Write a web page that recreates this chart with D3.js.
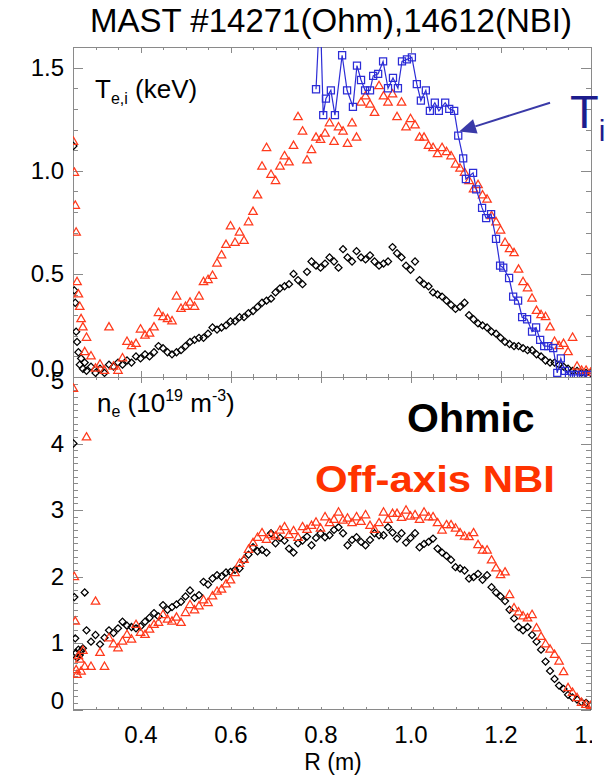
<!DOCTYPE html>
<html>
<head>
<meta charset="utf-8">
<title>MAST Te, Ti and ne profiles</title>
<script src="https://d3js.org/d3.v7.min.js"></script>
<style>
  body { margin: 0; background: #fff; }
  svg { display: block; font-family: "Liberation Sans", Arial, Helvetica, sans-serif; }
</style>
</head>
<body>
<div id="chart"></div>
<script>
// Thomson scattering radii (m), same channels for both shots
var rTS = [
  0.251, 0.253, 0.255, 0.257, 0.259, 0.262, 0.265, 0.268, 0.272, 0.276, 0.280,
  0.29, 0.30, 0.31, 0.32, 0.33, 0.34, 0.35, 0.36, 0.37, 0.38,
  0.39, 0.40, 0.41, 0.42, 0.43, 0.44, 0.45, 0.46, 0.47, 0.48,
  0.49, 0.50, 0.51, 0.52, 0.53, 0.54, 0.55, 0.56, 0.57, 0.58,
  0.59, 0.60, 0.61, 0.62, 0.63, 0.64, 0.65, 0.66, 0.67, 0.68,
  0.69, 0.70, 0.71, 0.72, 0.73, 0.74, 0.75, 0.76, 0.77, 0.78,
  0.79, 0.80, 0.81, 0.82, 0.83, 0.84, 0.85, 0.86, 0.87, 0.88,
  0.89, 0.90, 0.91, 0.92, 0.93, 0.94, 0.95, 0.96, 0.97, 0.98,
  0.99, 1.00, 1.01, 1.02, 1.03, 1.04, 1.05, 1.06, 1.07, 1.08,
  1.09, 1.10, 1.11, 1.12, 1.13, 1.14, 1.15, 1.16, 1.17, 1.18,
  1.19, 1.20, 1.21, 1.22, 1.23, 1.24, 1.25, 1.26, 1.27, 1.28,
  1.29, 1.30, 1.31, 1.32, 1.33, 1.34, 1.35, 1.36, 1.37, 1.38,
  1.39, 1.40
];

// Te (keV), Ohmic shot 14271
var teOhmic = [
  1.12, 0.42, 0.36, 0.22, 0.17, 0.12, 0.06, 0.09, 0.04, 0.07, 0.03,
  0.05, 0.02, 0.04, 0.02, 0.06, 0.05, 0.07, 0.06, 0.08, 0.07,
  0.10, 0.09, 0.11, 0.10, 0.12, 0.15, 0.14, 0.12, 0.11, 0.12,
  0.13, 0.15, 0.17, 0.18, 0.19, 0.19, 0.21, 0.24, 0.23, 0.24,
  0.25, 0.27, 0.27, 0.29, 0.29, 0.31, 0.32, 0.34, 0.36, 0.37,
  0.38, 0.41, 0.43, 0.44, 0.45, 0.50, 0.47, 0.45, 0.51, 0.56,
  0.54, 0.53, 0.55, 0.58, 0.56, 0.53, 0.62, 0.58, 0.56, 0.61,
  0.58, 0.57, 0.59, 0.56, 0.54, 0.55, 0.56, 0.63, 0.60, 0.58,
  0.54, 0.52, 0.56, 0.47, 0.45, 0.44, 0.41, 0.40, 0.39, 0.37,
  0.35, 0.33, 0.34, 0.36, 0.30, 0.28, 0.26, 0.25, 0.24, 0.22,
  0.21, 0.19, 0.17, 0.16, 0.15, 0.15, 0.14, 0.13, 0.13, 0.11,
  0.10, 0.08, 0.07, 0.07, 0.06, 0.05, 0.04, 0.03, 0.03, 0.02,
  0.02, 0.02
];

// Te (keV), off-axis NBI shot 14612
var teNBI = [
  1.14, 0.99, 0.83, 0.70, 0.46, 0.40, 0.34, 0.28, 0.24, 0.12, 0.19,
  0.10, 0.04, 0.06, 0.03, 0.24, 0.05, 0.03, 0.09, 0.17, 0.15,
  0.16, 0.23, 0.20, 0.21, 0.24, 0.31, 0.29, 0.28, 0.27, 0.39,
  0.33, 0.34, 0.36, 0.34, 0.39, 0.46, 0.47, 0.49, 0.55, 0.59,
  0.64, 0.73, 0.65, 0.70, 0.66, 0.75, 0.80, 0.88, 1.02, 1.11,
  0.98, 0.95, 1.02, 1.07, 1.04, 1.12, 1.26, 1.19, 1.05, 1.10,
  1.16, 1.15, 1.18, 1.23, 1.14, 1.21, 1.19, 1.13, 1.23, 1.16,
  1.33, 1.36, 1.32, 1.28, 1.41, 1.36, 1.33, 1.37, 1.26, 1.33,
  1.21, 1.25, 1.22, 1.16, 1.16, 1.12, 1.11, 1.08, 1.11, 1.09,
  1.07, 1.03, 1.01, 0.99, 0.95, 0.91, 0.93, 0.88, 0.86, 0.78,
  0.75, 0.71, 0.65, 0.62, 0.60, 0.52, 0.46, 0.43, 0.38, 0.32,
  0.30, 0.29, 0.24, 0.17, 0.15, 0.16, 0.12, 0.19, 0.05, 0.03,
  0.03, 0.02
];

// ne (1e19 m^-3), Ohmic
var neOhmic = [
  4.00, 1.69, 1.07, 0.85, 0.78, 0.90, 0.82, 0.88, 0.92, 1.76, 1.19,
  1.02, 1.12, 0.98, 1.08, 1.19, 1.15, 1.22, 1.32, 1.26, 1.24,
  1.22, 1.25, 1.32, 1.38, 1.45, 1.40, 1.57, 1.50, 1.54, 1.58,
  1.62, 1.70, 1.79, 1.68, 1.72, 1.92, 1.88, 1.97, 2.02, 2.00,
  2.06, 2.07, 2.10, 2.12, 2.25, 2.33, 2.44, 2.38, 2.40, 2.36,
  2.65, 2.50, 2.58, 2.54, 2.42, 2.36, 2.50, 2.54, 2.60, 2.47,
  2.58, 2.65, 2.59, 2.62, 2.70, 2.74, 2.65, 2.47, 2.55, 2.59,
  2.52, 2.47, 2.55, 2.65, 2.62, 2.62, 2.74, 2.66, 2.57, 2.65,
  2.51, 2.58, 2.65, 2.44, 2.49, 2.52, 2.57, 2.42, 2.36, 2.31,
  2.25, 2.14, 2.12, 2.09, 1.97, 1.99, 2.04, 1.95, 2.02, 1.84,
  1.76, 1.70, 1.63, 1.50, 1.37, 1.24, 1.19, 1.24, 1.12, 1.02,
  0.90, 0.72, 0.58, 0.46, 0.36, 0.31, 0.22, 0.18, 0.15, 0.11,
  0.10, 0.06
];

// ne (1e19 m^-3), off-axis NBI
var neNBI = [
  4.82, 1.99, 1.32, 0.59, 0.52, 0.80, 0.75, 0.57, 0.88, 0.64, 4.09,
  0.64, 1.62, 0.85, 0.64, 1.07, 0.98, 0.92, 1.02, 1.12, 1.05,
  1.27, 1.15, 1.12, 1.20, 1.27, 1.30, 1.42, 1.35, 1.32, 1.38,
  1.30, 1.45, 1.57, 1.49, 1.55, 1.64, 1.60, 1.70, 1.77, 1.80,
  1.88, 1.94, 2.05, 2.19, 2.25, 2.40, 2.50, 2.58, 2.65, 2.55,
  2.62, 2.60, 2.69, 2.74, 2.62, 2.68, 2.58, 2.74, 2.70, 2.76,
  2.81, 2.72, 2.89, 2.80, 2.85, 2.96, 2.84, 2.87, 2.80, 2.89,
  2.82, 2.92, 2.76, 2.70, 2.80, 2.96, 2.85, 2.94, 2.94, 2.88,
  2.99, 2.90, 2.92, 2.85, 2.96, 2.89, 2.89, 2.80, 2.69, 2.77,
  2.77, 2.72, 2.65, 2.60, 2.59, 2.65, 2.47, 2.39, 2.39, 2.24,
  2.12, 2.02, 2.06, 1.72, 1.52, 1.46, 1.40, 1.37, 1.42, 1.22,
  1.09, 0.98, 0.90, 0.82, 0.72, 0.56, 0.32, 0.25, 0.17, 0.10,
  0.07, 0.05
];

// Ti (keV) from CXRS, NBI shot
var rTi = [
  0.790, 0.799, 0.806, 0.812, 0.823, 0.832, 0.848, 0.859, 0.872, 0.881,
  0.890, 0.899, 0.910, 0.917, 0.928, 0.939, 0.950, 0.961, 0.972, 0.981,
  0.992, 1.003, 1.014, 1.023, 1.034, 1.043, 1.054, 1.063, 1.077, 1.086,
  1.097, 1.106, 1.117, 1.123, 1.139, 1.146, 1.159, 1.168, 1.179, 1.190,
  1.199, 1.206, 1.219, 1.228, 1.239, 1.248, 1.259, 1.270, 1.279, 1.288,
  1.297, 1.306, 1.317, 1.326, 1.334, 1.343, 1.352, 1.363, 1.372, 1.383,
  1.394
];
var ti = [
  1.395, 1.80, 1.27, 1.35, 1.39, 1.27, 1.56, 1.39, 1.31, 1.51,
  1.44, 1.39, 1.39, 1.46, 1.47, 1.53, 1.40, 1.45, 1.40, 1.53,
  1.54, 1.55, 1.42, 1.34, 1.39, 1.29, 1.33, 1.29, 1.33, 1.30,
  1.29, 1.17, 1.06, 0.96, 0.99, 0.91, 0.82, 0.77, 0.79, 0.67,
  0.54, 0.53, 0.48, 0.39, 0.37, 0.29, 0.28, 0.22, 0.24, 0.18,
  0.15, 0.15, 0.14, 0.02, 0.09, 0.03, 0.01, 0.01, 0.01, 0.01,
  0.01
];

var xTicks = [0.4, 0.6, 0.8, 1.0, 1.2, 1.4];
var teTicks = [0.0, 0.5, 1.0, 1.5];
var neTicks = [0, 1, 2, 3, 4, 5];

// arrow pointing at the Ti profile (data units: tail, tip)
var arrowTail = [1.31, 1.33];
var arrowTip = [1.108, 1.19];

var W = 613, H = 778;
var left = 73, right = 591, top1 = 47, mid = 377, bot2 = 709.5;
var gray = "#8a8a8a";
var red = "#ff3a1c";
var blue = "#2c2cd6";

var x = d3.scaleLinear().domain([0.25, 1.401]).range([left, right]);
var yTe = d3.scaleLinear().domain([0, 1.6]).range([mid, top1]);
var yNe = d3.scaleLinear().domain([0, 5]).range([bot2, mid]);

var xMinor = d3.range(0.25, 1.401, 0.05).map(function(d) { return +d.toFixed(2); });
var teMinor = d3.range(0, 1.61, 0.1).map(function(d) { return +d.toFixed(1); });
var neMinor = d3.range(0, 5.01, 0.1).map(function(d) { return +d.toFixed(1); });

var svg = d3.select("#chart").append("svg")
  .attr("width", W)
  .attr("height", H);

svg.append("rect").attr("width", W).attr("height", H).attr("fill", "#fff");

var defs = svg.append("defs");
defs.append("clipPath").attr("id", "clipTop")
  .append("rect").attr("x", left).attr("y", top1).attr("width", right - left).attr("height", mid - top1);
defs.append("clipPath").attr("id", "clipBot")
  .append("rect").attr("x", left).attr("y", mid).attr("width", right - left).attr("height", bot2 - mid);
defs.append("clipPath").attr("id", "clipLabels")
  .append("rect").attr("x", 0).attr("y", 0).attr("width", 592).attr("height", H);

function styleAxis(g) {
  g.select(".domain").remove();
  g.attr("font-family", null).attr("font-size", null);
  g.selectAll("line").attr("stroke", gray).attr("shape-rendering", "crispEdges");
  g.selectAll("text").attr("fill", "#000").style("font-size", "24px");
}

function addAxis(axis, tx, ty) {
  return svg.append("g")
    .attr("transform", "translate(" + tx + "," + ty + ")")
    .call(axis)
    .call(styleAxis);
}

// one panel's frame and ticks
function panelAxes(y, yMajor, yMinor, fmt, yTop, yBot, xLabels) {
  addAxis(d3.axisLeft(y).tickValues(yMinor).tickSize(-5).tickFormat(""), left, 0);
  var lab = addAxis(d3.axisLeft(y).tickValues(yMajor).tickSize(-10).tickPadding(9).tickFormat(fmt), left, 0);
  addAxis(d3.axisRight(y).tickValues(yMinor).tickSize(-5).tickFormat(""), right, 0);
  addAxis(d3.axisRight(y).tickValues(yMajor).tickSize(-10).tickFormat(""), right, 0);
  addAxis(d3.axisTop(x).tickValues(xMinor).tickSize(-3).tickFormat(""), 0, yTop);
  addAxis(d3.axisTop(x).tickValues(xTicks).tickSize(-6).tickFormat(""), 0, yTop);
  addAxis(d3.axisBottom(x).tickValues(xMinor).tickSize(-3).tickFormat(""), 0, yBot);
  var xa = addAxis(d3.axisBottom(x).tickValues(xTicks).tickSize(-6).tickPadding(16.5)
    .tickFormat(xLabels ? d3.format(".1f") : ""), 0, yBot);
  if (xLabels) xa.attr("clip-path", "url(#clipLabels)");
  svg.append("rect")
    .attr("x", left).attr("y", yTop)
    .attr("width", right - left).attr("height", yBot - yTop)
    .attr("fill", "none").attr("stroke", gray)
    .attr("shape-rendering", "crispEdges");
  return lab;
}

var labTop = panelAxes(yTe, teTicks, teMinor, d3.format(".1f"), top1, mid, false);
labTop.selectAll(".tick text").filter(function(d) { return d === 0; })
  .attr("transform", "translate(0,-8)");

var labBot = panelAxes(yNe, neTicks, neMinor, d3.format("d"), mid, bot2, true);
labBot.selectAll(".tick text").filter(function(d) { return d === 5; })
  .attr("transform", "translate(0,4)");
labBot.selectAll(".tick text").filter(function(d) { return d === 0; })
  .attr("transform", "translate(0,-8.5)");

// data
var ohm = rTS.map(function(r, i) { return { r: r, te: teOhmic[i], ne: neOhmic[i] }; });
var nbi = rTS.map(function(r, i) { return { r: r, te: teNBI[i], ne: neNBI[i] }; });
var tiData = rTi.map(function(r, i) { return { r: r, ti: ti[i] }; });

var diamond = d3.symbol().type(d3.symbolSquare).size(25);
var triangle = d3.symbol().type(d3.symbolTriangle).size(31);
var square = d3.symbol().type(d3.symbolSquare).size(50);

function drawDiamonds(g, data, y, key) {
  g.selectAll(null).data(data).enter().append("path")
    .attr("d", diamond)
    .attr("transform", function(d) { return "translate(" + x(d.r) + "," + y(d[key]) + ") rotate(45)"; })
    .attr("fill", "none").attr("stroke", "#000").attr("stroke-width", 1.25);
}
function drawTriangles(g, data, y, key) {
  g.selectAll(null).data(data).enter().append("path")
    .attr("d", triangle)
    .attr("transform", function(d) { return "translate(" + x(d.r) + "," + y(d[key]) + ")"; })
    .attr("fill", "none").attr("stroke", red).attr("stroke-width", 1.25);
}

var gTop = svg.append("g").attr("clip-path", "url(#clipTop)");
drawDiamonds(gTop, ohm, yTe, "te");
drawTriangles(gTop, nbi, yTe, "te");

gTop.append("path")
  .datum(tiData)
  .attr("fill", "none")
  .attr("stroke", blue)
  .attr("stroke-width", 1.2)
  .attr("d", d3.line().x(function(d) { return x(d.r); }).y(function(d) { return yTe(d.ti); }));
gTop.selectAll(null).data(tiData).enter().append("path")
  .attr("d", square)
  .attr("transform", function(d) { return "translate(" + x(d.r) + "," + yTe(d.ti) + ")"; })
  .attr("fill", "none").attr("stroke", blue).attr("stroke-width", 1.25);

var gBot = svg.append("g").attr("clip-path", "url(#clipBot)");
drawDiamonds(gBot, ohm, yNe, "ne");
drawTriangles(gBot, nbi, yNe, "ne");

// arrow to Ti
var p0 = [x(arrowTail[0]), yTe(arrowTail[1])];
var p1 = [x(arrowTip[0]), yTe(arrowTip[1])];
var ang = Math.atan2(p1[1] - p0[1], p1[0] - p0[0]);
var hl = 17, hw = 7.5;
var base = [p1[0] - hl * Math.cos(ang), p1[1] - hl * Math.sin(ang)];
svg.append("line")
  .attr("x1", p0[0]).attr("y1", p0[1])
  .attr("x2", base[0]).attr("y2", base[1])
  .attr("stroke", "#3a3aa8").attr("stroke-width", 2);
svg.append("path")
  .attr("d", "M" + p1[0] + "," + p1[1] +
    "L" + (base[0] + hw * Math.sin(ang)) + "," + (base[1] - hw * Math.cos(ang)) +
    "L" + (base[0] - hw * Math.sin(ang)) + "," + (base[1] + hw * Math.cos(ang)) + "Z")
  .attr("fill", "#3a3aa8");

// texts
svg.append("text")
  .attr("x", 331).attr("y", 32)
  .attr("text-anchor", "middle")
  .style("font-size", "33px")
  .text("MAST #14271(Ohm),14612(NBI)");

var teLab = svg.append("text").attr("x", 95).attr("y", 98).style("font-size", "26px");
teLab.append("tspan").text("T");
teLab.append("tspan").attr("dy", 6).style("font-size", "16px").text("e,i");
teLab.append("tspan").attr("dy", -6).text(" (keV)");

var neLab = svg.append("text").attr("x", 97).attr("y", 411.5).style("font-size", "26px");
neLab.append("tspan").text("n");
neLab.append("tspan").attr("dy", 5).style("font-size", "16px").text("e");
neLab.append("tspan").attr("dy", -5).text(" (10");
neLab.append("tspan").attr("dy", -11).style("font-size", "16px").text("19");
neLab.append("tspan").attr("dy", 11).text(" m");
neLab.append("tspan").attr("dy", -11).style("font-size", "16px").text("-3");
neLab.append("tspan").attr("dy", 11).text(")");

svg.append("text")
  .attr("x", 407).attr("y", 431.5)
  .style("font-size", "41px").style("font-weight", "bold")
  .attr("fill", "#000")
  .text("Ohmic");

svg.append("text")
  .attr("x", 315).attr("y", 491.5)
  .style("font-size", "36px").style("font-weight", "bold")
  .attr("textLength", 240).attr("lengthAdjust", "spacingAndGlyphs")
  .attr("fill", "#ff3300")
  .text("Off-axis NBI");

var tiLab = svg.append("text").attr("x", 570).attr("y", 128)
  .attr("fill", "#1c1c8c").style("font-size", "47px");
tiLab.append("tspan").text("T");
tiLab.append("tspan").attr("dy", 13).style("font-size", "30px").text("i");

svg.append("text")
  .attr("x", 333).attr("y", 770)
  .attr("text-anchor", "middle")
  .style("font-size", "23px")
  .text("R (m)");
</script>
</body>
</html>
